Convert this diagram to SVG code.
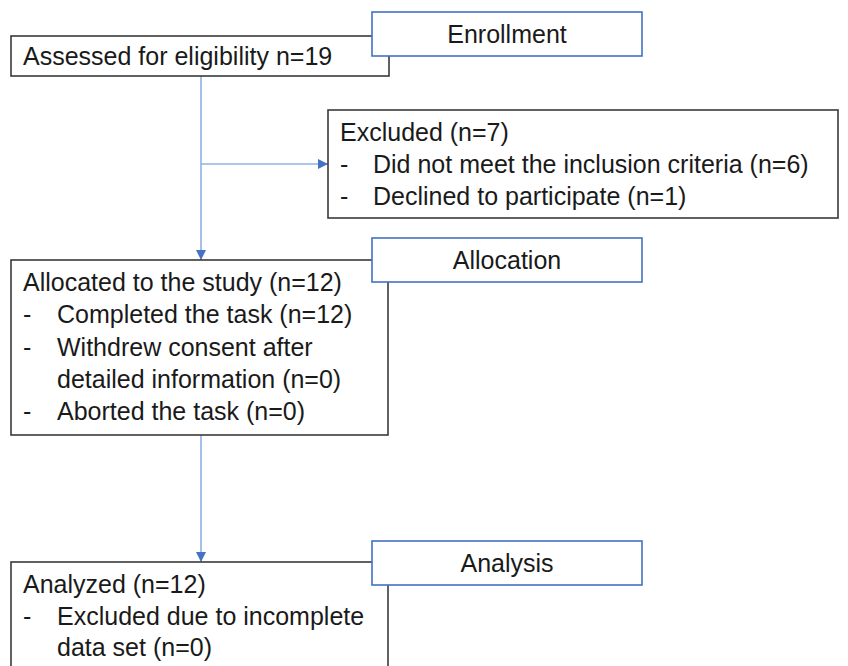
<svg xmlns="http://www.w3.org/2000/svg" width="848" height="666" viewBox="0 0 848 666">
<style>
.box{fill:#fff;stroke:#3a3a3a;stroke-width:1.6}
.lbl{fill:#fff;stroke:#4472c4;stroke-width:1.6}
text{font-family:"Liberation Sans",Arial,sans-serif;font-size:25px;fill:#1a1a1a}
.c{text-anchor:middle}
.conn{stroke:#8fb2e6;stroke-width:1.6;fill:none}
</style>
<defs>
<marker id="ah" viewBox="0 0 10 10" refX="10" refY="5" markerWidth="10" markerHeight="10" markerUnits="userSpaceOnUse" orient="auto">
<path d="M0,0 L10,5 L0,10 z" fill="#4472c4"/>
</marker>
</defs>
<rect width="848" height="666" fill="#fff"/>
<g id="connectors">
<line class="conn" x1="201" y1="76" x2="201" y2="260" marker-end="url(#ah)"/>
<line class="conn" x1="201" y1="164" x2="328" y2="164" marker-end="url(#ah)"/>
<line class="conn" x1="201" y1="435" x2="201" y2="562" marker-end="url(#ah)"/>
</g>
<g id="assessed">
<rect class="box" x="11" y="36" width="378" height="40"/>
<text x="23" y="65">Assessed for eligibility n=19</text>
</g>
<g id="enrollment">
<rect class="lbl" x="372" y="12" width="270" height="44"/>
<text class="c" x="507" y="43">Enrollment</text>
</g>
<g id="excluded">
<rect class="box" x="328" y="110" width="510" height="108"/>
<text x="340" y="141">Excluded (n=7)</text>
<text x="340" y="173">-</text>
<text x="373" y="173">Did not meet the inclusion criteria (n=6)</text>
<text x="340" y="205">-</text>
<text x="373" y="205">Declined to participate (n=1)</text>
</g>
<g id="allocated">
<rect class="box" x="11" y="260" width="377" height="175"/>
<text x="23" y="291">Allocated to the study (n=12)</text>
<text x="23" y="323">-</text>
<text x="57" y="323">Completed the task (n=12)</text>
<text x="23" y="356">-</text>
<text x="57" y="356">Withdrew consent after</text>
<text x="57" y="388">detailed information (n=0)</text>
<text x="23" y="420">-</text>
<text x="57" y="420">Aborted the task (n=0)</text>
</g>
<g id="allocation">
<rect class="lbl" x="372" y="238" width="270" height="44"/>
<text class="c" x="507" y="269">Allocation</text>
</g>
<g id="analyzed">
<rect class="box" x="11" y="562" width="377" height="120"/>
<text x="23" y="593">Analyzed (n=12)</text>
<text x="23" y="625">-</text>
<text x="57" y="625">Excluded due to incomplete</text>
<text x="57" y="656">data set (n=0)</text>
</g>
<g id="analysis">
<rect class="lbl" x="372" y="541" width="270" height="44"/>
<text class="c" x="507" y="572">Analysis</text>
</g>
</svg>
